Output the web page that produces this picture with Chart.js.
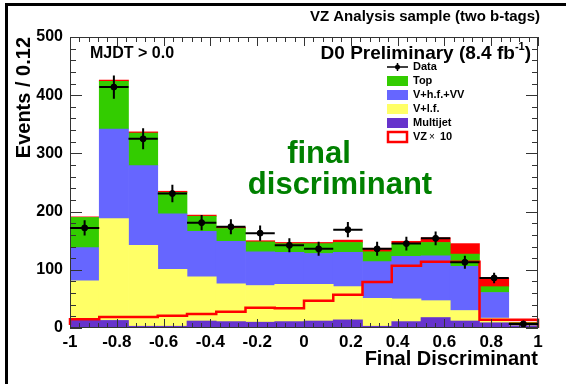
<!DOCTYPE html>
<html>
<head>
<meta charset="utf-8">
<script src="https://cdn.jsdelivr.net/npm/chart.js@4.4.0/dist/chart.umd.min.js"></script>
<style>
  html, body { margin: 0; padding: 0; background: #fff; }
  canvas { display: block; }
</style>
</head>
<body>
<canvas id="chart" width="566" height="384"></canvas>
<script>
// 16 bins of width 0.125 over the final discriminant [-1, 1]
const binLow = -1;
const binWidth = 0.125;

// stacked backgrounds, bottom to top (events per bin)
const multijet = [14, 13, 3, 3, 12, 11, 10, 11, 12, 14, 3, 11, 18, 12, 9, 4];
const vlf      = [67, 175, 139, 98, 76, 65, 63, 64, 63, 57, 48, 39, 29, 18, 8, 1];
const vhf      = [57, 154, 137, 95, 78, 73, 58, 55, 53, 59, 63, 73, 77, 76, 44, 3];
const topQuark = [52, 82, 56, 37, 26, 22, 17, 15, 17, 17, 17, 22, 23, 21, 10, 1];
// VZ signal stacked on top
const vz       = [1, 2, 2, 2, 2, 2, 2, 2, 2, 4, 6, 4, 8, 18, 15, 1];
// VZ x 10 open histogram
const vzTimes10 = [5, 15, 19, 19, 21, 24, 28, 35, 34, 47, 57, 79, 107, 114, 114, 14];
// observed data with errors
const dataCounts = [172, 414, 325, 231, 181, 174, 163, 142, 136, 169, 136, 145, 154, 113, 86, 7];
const dataErrors = [13, 20, 18, 15, 13, 13, 13, 12, 12, 13, 12, 12, 12, 11, 9, 3];

const FONT = '"Liberation Sans", Arial, Helvetica, sans-serif';

const centers = dataCounts.map((_, i) => binLow + (i + 0.5) * binWidth);
const asPoints = arr => arr.map((v, i) => ({ x: centers[i], y: v }));

// step outline: one point per lower edge, then the upper edge, then back to 0
const outline = vzTimes10.map((v, i) => ({ x: binLow + i * binWidth, y: v }));
outline.push({ x: binLow + vzTimes10.length * binWidth, y: vzTimes10[vzTimes10.length - 1] });
outline.push({ x: binLow + vzTimes10.length * binWidth, y: 0 });

const barDefaults = {
  type: 'bar', stack: 'bkg', order: 2,
  barPercentage: 1, categoryPercentage: 1, borderWidth: 0
};

// ROOT style frame with inward ticks on all four sides
const frameTicks = {
  id: 'frameTicks',
  afterDatasetsDraw(chart) {
    const { ctx, chartArea: a, scales: { x, y } } = chart;
    ctx.save();
    ctx.strokeStyle = '#333';
    ctx.lineWidth = 1;
    ctx.strokeRect(a.left + 0.5, a.top + 0.5, a.right - a.left - 1, a.bottom - a.top - 1);
    ctx.beginPath();
    for (let i = 0; i <= 50; i++) {
      const px = Math.round(x.getPixelForValue(-1 + i * 0.04)) + 0.5;
      const len = i % 5 === 0 ? 9 : 5;
      ctx.moveTo(px, a.bottom); ctx.lineTo(px, a.bottom - len);
      ctx.moveTo(px, a.top); ctx.lineTo(px, a.top + len);
    }
    for (let i = 0; i <= 25; i++) {
      const py = Math.round(y.getPixelForValue(i * 20)) + 0.5;
      const len = i % 5 === 0 ? 12 : 6;
      ctx.moveTo(a.left, py); ctx.lineTo(a.left + len, py);
      ctx.moveTo(a.right, py); ctx.lineTo(a.right - len, py);
    }
    ctx.stroke();

    // data error bars
    ctx.strokeStyle = '#000';
    ctx.lineWidth = 2;
    ctx.beginPath();
    dataCounts.forEach((v, i) => {
      const c = x.getPixelForValue(centers[i]);
      const l = x.getPixelForValue(centers[i] - binWidth / 2);
      const r = x.getPixelForValue(centers[i] + binWidth / 2);
      const py = y.getPixelForValue(v);
      ctx.moveTo(l, py); ctx.lineTo(r, py);
      ctx.moveTo(c, y.getPixelForValue(v - dataErrors[i]));
      ctx.lineTo(c, y.getPixelForValue(v + dataErrors[i]));
    });
    ctx.stroke();
    ctx.restore();
  }
};

// texts and legend
const annotations = {
  id: 'annotations',
  afterDraw(chart) {
    const { ctx } = chart;
    ctx.save();
    // page frame
    ctx.fillStyle = '#000';
    ctx.fillRect(5, 3, 561, 3);
    ctx.fillRect(5, 3, 3, 381);

    ctx.textBaseline = 'alphabetic';
    ctx.textAlign = 'right';
    ctx.font = 'bold 15px ' + FONT;
    ctx.fillText('VZ Analysis sample (two b-tags)', 540, 21);

    ctx.textAlign = 'left';
    ctx.font = 'bold 16px ' + FONT;
    ctx.fillText('MJDT > 0.0', 90, 58);

    // D0 Preliminary (8.4 fb^-1)
    ctx.font = 'bold 19px ' + FONT;
    const main = 'D0 Preliminary (8.4 fb';
    const wMain = ctx.measureText(main).width;
    ctx.font = 'bold 11px ' + FONT;
    const wSup = ctx.measureText('-1').width;
    ctx.font = 'bold 19px ' + FONT;
    const wEnd = ctx.measureText(')').width;
    const sx = 531 - wMain - wSup - wEnd;
    ctx.fillText(main, sx, 59);
    ctx.font = 'bold 11px ' + FONT;
    ctx.fillText('-1', sx + wMain, 50);
    ctx.font = 'bold 19px ' + FONT;
    ctx.fillText(')', sx + wMain + wSup, 59);

    ctx.fillStyle = '#008000';
    ctx.textAlign = 'center';
    ctx.font = 'bold 31px ' + FONT;
    ctx.fillText('final', 319, 163);
    ctx.fillText('discriminant', 340, 194);

    // legend
    const lx = 387, bw = 21, bh = 10, tx = 413;
    const rows = [
      { label: 'Data' },
      { label: 'Top', fill: '#33cc00' },
      { label: 'V+h.f.+VV', fill: '#6666ff' },
      { label: 'V+l.f.', fill: '#ffff66' },
      { label: 'Multijet', fill: '#6633cc' },
      { label: 'VZ', outline: '#ff0000' }
    ];
    ctx.textAlign = 'left';
    ctx.textBaseline = 'middle';
    rows.forEach((row, k) => {
      const cy = 67 + k * 14;
      if (row.fill) {
        ctx.fillStyle = row.fill;
        ctx.fillRect(lx, cy - bh / 2, bw, bh);
      } else if (row.outline) {
        ctx.strokeStyle = row.outline;
        ctx.lineWidth = 2.5;
        ctx.strokeRect(lx + 1, cy - bh / 2, bw - 2, bh);
      } else {
        ctx.strokeStyle = '#000';
        ctx.lineWidth = 1.5;
        ctx.beginPath();
        ctx.moveTo(lx, cy); ctx.lineTo(lx + bw, cy);
        ctx.moveTo(lx + bw / 2, cy - 4); ctx.lineTo(lx + bw / 2, cy + 4);
        ctx.stroke();
        ctx.fillStyle = '#000';
        ctx.beginPath();
        ctx.arc(lx + bw / 2, cy, 2.5, 0, Math.PI * 2);
        ctx.fill();
      }
      ctx.fillStyle = '#000';
      ctx.font = 'bold 11px ' + FONT;
      ctx.fillText(row.label, tx, cy);
      if (row.outline) {
        const w = ctx.measureText(row.label).width;
        ctx.font = '10px ' + FONT;
        ctx.fillText('\u00d7', tx + w + 2, cy);
        const w2 = ctx.measureText('\u00d7').width;
        ctx.font = 'bold 11px ' + FONT;
        ctx.fillText('10', tx + w + w2 + 7, cy);
      }
    });
    ctx.restore();
  }
};

new Chart(document.getElementById('chart'), {
  data: {
    datasets: [
      { ...barDefaults, label: 'Multijet', data: asPoints(multijet), backgroundColor: '#6633cc' },
      { ...barDefaults, label: 'V+l.f.', data: asPoints(vlf), backgroundColor: '#ffff66' },
      { ...barDefaults, label: 'V+h.f.+VV', data: asPoints(vhf), backgroundColor: '#6666ff' },
      { ...barDefaults, label: 'Top', data: asPoints(topQuark), backgroundColor: '#33cc00' },
      { ...barDefaults, label: 'VZ', data: asPoints(vz), backgroundColor: '#ff0000' },
      {
        type: 'line', label: 'VZ x 10', stack: 'sig', order: 1,
        data: outline, stepped: 'after', borderColor: '#ff0000', borderWidth: 2.5,
        pointRadius: 0, fill: false, clip: false
      },
      {
        type: 'line', label: 'Data', stack: 'obs', order: 0,
        data: asPoints(dataCounts), showLine: false,
        pointRadius: 3, pointBackgroundColor: '#000', pointBorderColor: '#000'
      }
    ]
  },
  options: {
    responsive: false,
    devicePixelRatio: 1,
    animation: false,
    layout: { padding: { left: 0, top: 37, right: 28, bottom: 0 } },
    plugins: { legend: { display: false }, tooltip: { enabled: false } },
    scales: {
      x: {
        type: 'linear', min: -1, max: 1, offset: false, stacked: true,
        grid: { display: false, drawTicks: false }, border: { display: false },
        ticks: {
          stepSize: 0.2, autoSkip: false, maxRotation: 0, padding: 4,
          color: '#000', font: { family: FONT, size: 17, weight: 'bold' },
          callback: v => String(Math.round(v * 10) / 10)
        },
        title: {
          display: true, text: 'Final Discriminant', align: 'end', color: '#000',
          font: { family: FONT, size: 20, weight: 'bold' }, padding: { top: 0, bottom: 13 }
        },
        afterFit: s => { s.height = 56; }
      },
      y: {
        min: 0, max: 500, stacked: true,
        grid: { display: false, drawTicks: false }, border: { display: false },
        ticks: {
          stepSize: 100, padding: 7, color: '#000',
          font: { family: FONT, size: 16, weight: 'bold' }
        },
        title: {
          display: true, text: 'Events / 0.12', align: 'end', color: '#000',
          font: { family: FONT, size: 20, weight: 'bold' }, padding: { top: 12, bottom: 0 }
        },
        afterFit: s => { s.width = 70; }
      }
    }
  },
  plugins: [frameTicks, annotations]
});
</script>
</body>
</html>
